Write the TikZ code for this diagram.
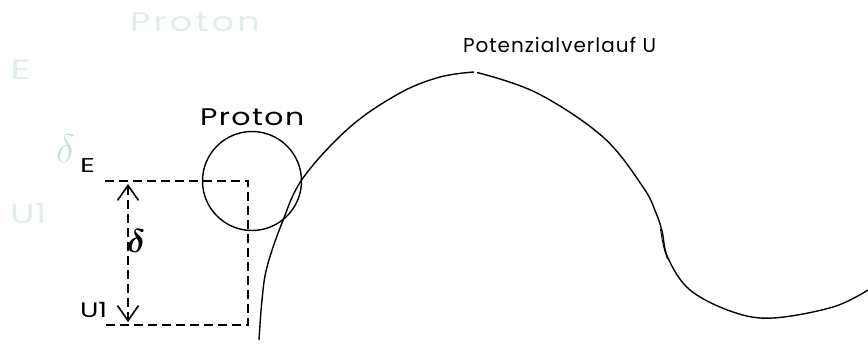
\RequirePackage{fix-cm}
\documentclass[tikz,border=0pt]{standalone}
\usepackage{fontspec}
\usepackage{amsmath}
\usetikzlibrary{arrows.meta}
\newfontfamily\pop{Poppins}
\newfontfamily\poppot{Poppins}[LetterSpace=5]
\newfontfamily\popsp{Poppins}[FakeStretch=1.25,LetterSpace=6]
\newfontfamily\popgsp{Poppins}[FakeStretch=1.3,LetterSpace=12]
\newfontfamily\popwide{Poppins}[FakeStretch=1.3]
\newfontfamily\popwider{Poppins}[FakeStretch=1.45]
\definecolor{faint}{HTML}{E2EEEA}
\definecolor{faintd}{HTML}{C8DFD5}
\tikzset{
  lbl/.style={inner sep=0pt, outer sep=0pt, anchor=base west, font=\pop},
  ghost/.style={lbl, text=faint},
  dashline/.style={line width=1.6pt, dash pattern=on 9pt off 5pt},
  curve/.style={line width=1.4pt},
}
\begin{document}
\begin{tikzpicture}[x=1pt,y=-1pt]
\useasboundingbox (0,0) rectangle (868,345);
% faint ghost labels
\node[ghost, font=\popgsp\fontsize{27}{30}\selectfont] (gproton) at (130,32) {Proton};
\node[ghost, font=\popwider\fontsize{28}{30}\selectfont] (gE) at (10,80) {E};
\node[ghost, font=\popwide\fontsize{28}{30}\selectfont] (gU) at (10,223) {U1};
\node[lbl, text=faintd, font=\fontsize{40}{44}\selectfont] (gdelta) at (56,162) {$\delta$};
% black labels
\node[lbl, font=\popwider\fontsize{20}{22}\selectfont] (E) at (80,172) {E};
\node[lbl, font=\popwide\fontsize{21}{22}\selectfont] (U1) at (80,317) {U1};
\node[lbl, font=\popsp\fontsize{24}{26}\selectfont] (proton) at (200,125) {Proton};
\node[lbl, font=\poppot\fontsize{20}{22}\selectfont] (pot) at (463,53) {Potenzialverlauf U};
% proton circle
\node[draw, circle, line width=1.4pt, minimum size=99pt, inner sep=0pt] (circ) at (252,181) {};
% dashed frame
\coordinate (tl) at (105,181);
\coordinate (tr) at (248,181);
\coordinate (br) at (248,325);
\coordinate (bl) at (105,325);
\draw[dashline] (tl) -- (tr) -- (br) -- (bl);
% delta arrow
\coordinate (atop) at (128,184);
\coordinate (abot) at (128,322);
\draw[dashline, {Straight Barb[length=15pt,width=21pt,line width=1.6pt]}-{Straight Barb[length=15pt,width=21pt,line width=1.6pt]}] (atop) -- (abot);
\node[lbl, anchor=base, font=\fontsize{33}{36}\selectfont] (delta) at (136,252) {$\boldsymbol{\delta}$};
% potential curve
\draw[curve] plot[smooth, tension=0.6] coordinates {(259,340) (262,300) (267,267) (282,223) (303,178) (350,127) (400,93) (440,77) (474,72)};
\draw[curve] plot[smooth, tension=0.6] coordinates {(477,72.5) (537,93) (603,137) (643,187) (656,213) (662,231) (668,258) (690,290) (733,312) (773,318) (833,307) (868,290)};
\draw[line width=0.9pt] (660.5,229) .. controls (662,240) and (664,250) .. (667.5,259);
\end{tikzpicture}
\end{document}
